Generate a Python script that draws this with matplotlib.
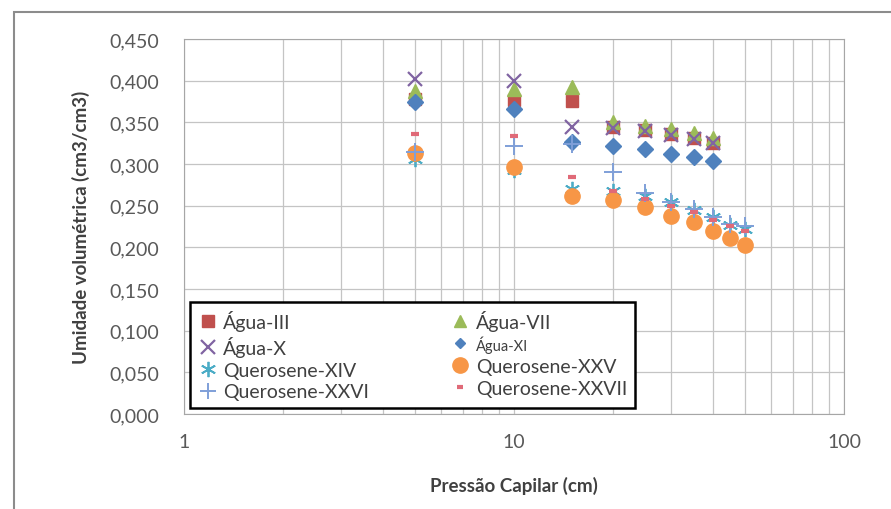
import matplotlib
matplotlib.use("Agg")
import matplotlib.pyplot as plt
from matplotlib.patches import Rectangle
from matplotlib.ticker import FixedLocator, FuncFormatter, LogLocator, NullFormatter

plt.rcParams["font.family"] = ["Lato", "DejaVu Sans"]

# capillary pressure (cm)
pressao_agua = [5, 10, 15, 20, 25, 30, 35, 40]
pressao_querosene = [5, 10, 15, 20, 25, 30, 35, 40, 45, 50]

# volumetric moisture (cm3/cm3)
agua_iii = [0.378, 0.377, 0.376, 0.345, 0.341, 0.336, 0.331, 0.325]
agua_vii = [0.388, 0.390, 0.393, 0.350, 0.346, 0.342, 0.337, 0.331]
agua_x = [0.402, 0.400, 0.344, 0.343, 0.340, 0.335, 0.330, 0.325]
agua_xi = [0.374, 0.366, 0.326, 0.322, 0.318, 0.312, 0.308, 0.304]
querosene_xiv = [0.306, 0.293, 0.270, 0.267, 0.262, 0.254, 0.245, 0.236, 0.227, 0.222]
querosene_xxv = [0.313, 0.297, 0.261, 0.257, 0.249, 0.238, 0.230, 0.220, 0.211, 0.203]
querosene_xxvi = [0.315, 0.322, 0.324, 0.290, 0.265, 0.254, 0.246, 0.236, 0.228, 0.226]
querosene_xxvii = [0.336, 0.334, 0.285, 0.268, 0.258, 0.250, 0.243, 0.233, 0.226, 0.220]

y_ticks = [0.0, 0.05, 0.10, 0.15, 0.20, 0.25, 0.30, 0.35, 0.40, 0.45]

fig = plt.figure(figsize=(8.91, 5.10), dpi=100)
ax = fig.add_axes([184 / 891, 1 - 415 / 510, 660 / 891, 375 / 510])

series = [
    ("Água-III", pressao_agua, agua_iii, dict(marker="s", color="#C0504D", ms=9)),
    ("Água-VII", pressao_agua, agua_vii, dict(marker="^", color="#9BBB59", ms=10)),
    ("Água-X", pressao_agua, agua_x, dict(marker="x", color="#8064A2", ms=10, mew=1.6)),
    ("Água-XI", pressao_agua, agua_xi, dict(marker="D", color="#4F81BD", ms=8)),
    ("Querosene-XIV", pressao_querosene, querosene_xiv,
     dict(marker=(6, 2, 0), color="#4BACC6", ms=11, mew=1.3)),
    ("Querosene-XXV", pressao_querosene, querosene_xxv, dict(marker="o", color="#F79646", ms=11)),
    ("Querosene-XXVI", pressao_querosene, querosene_xxvi,
     dict(marker="+", color="#7F9FD8", ms=13, mew=1.4)),
    ("Querosene-XXVII", pressao_querosene, querosene_xxvii,
     dict(marker="_", color="#E06A78", ms=6, mew=3)),
]

for label, xs, ys, style in series:
    ax.plot(xs, ys, linestyle="none", label=label, **style)

ax.set_xscale("log")
ax.set_xlim(1, 100)
ax.set_ylim(0, 0.45)
ax.yaxis.set_major_locator(FixedLocator(y_ticks))
ax.yaxis.set_major_formatter(FuncFormatter(lambda v, _: f"{v:.3f}".replace(".", ",")))
ax.xaxis.set_major_formatter(FuncFormatter(lambda v, _: f"{v:g}"))
ax.xaxis.set_minor_locator(LogLocator(base=10, subs=range(2, 10)))
ax.xaxis.set_minor_formatter(NullFormatter())

ax.grid(True, which="both", axis="x", color="#c4c4c4", linewidth=0.9)
ax.grid(True, which="major", axis="y", color="#c4c4c4", linewidth=0.9)
ax.set_axisbelow(True)
for spine in ax.spines.values():
    spine.set_color("#a6a6a6")

ax.tick_params(axis="both", which="both", length=0, labelsize=14, colors="#595959")
ax.tick_params(axis="y", pad=18)
ax.tick_params(axis="x", pad=14)

ax.set_xlabel("Pressão Capilar (cm)", fontsize=13.5, fontweight="bold", color="#404040", labelpad=18)
ax.set_ylabel("Umidade volumétrica (cm3/cm3)", fontsize=13.5, fontweight="bold",
              color="#404040", labelpad=14)

# legend fills column-wise, so reorder to get the row layout of the original
handles, labels = ax.get_legend_handles_labels()
order = [0, 2, 4, 6, 1, 3, 5, 7]
leg = fig.legend([handles[i] for i in order], [labels[i] for i in order],
                 ncol=2, loc="upper left", bbox_to_anchor=(190 / 891, 1 - 303 / 510),
                 fontsize=14, frameon=True, fancybox=False, borderaxespad=0,
                 handlelength=1.0, handletextpad=0.3, columnspacing=4.2,
                 labelspacing=0.25, borderpad=0.4, labelcolor="#404040")
leg.get_frame().set_edgecolor("black")
leg.get_frame().set_linewidth(1.8)
leg.get_frame().set_alpha(1)
legend_sizes = [8, 10, 11, 12, 9, 5, 11, 5]
for h, size in zip(leg.legend_handles, legend_sizes):
    h.set_markersize(size)
leg.get_texts()[5].set_fontsize(10.5)

# outer chart border (only top and left edges show in the crop)
fig.patches.append(Rectangle((14 / 891, -0.1), 1.2, 1.1 - 13 / 510, transform=fig.transFigure,
                             fill=False, edgecolor="#8c8c8c", linewidth=1.5))

fig.savefig("out.png", dpi=100)
